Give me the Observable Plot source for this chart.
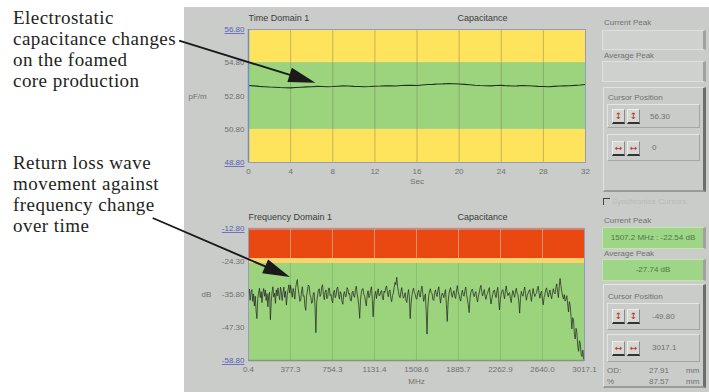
<!DOCTYPE html>
<html><head><meta charset="utf-8">
<script src="https://cdn.jsdelivr.net/npm/d3@7"></script>
<script src="https://cdn.jsdelivr.net/npm/@observablehq/plot@0.6"></script>
<style>
body{margin:0;width:709px;height:392px;position:relative;overflow:hidden;background:#fff;font-family:"Liberation Sans",Arial,sans-serif;}
.note{position:absolute;left:13px;font-family:"Liberation Serif","Times New Roman",serif;font-size:19px;letter-spacing:0.45px;line-height:21px;color:#231f20;white-space:nowrap;}
.note span{display:inline-block;}
#panel{position:absolute;left:184px;top:7px;width:525px;height:385px;background:#c9ccc9;}
.chart{position:absolute;}
.chart svg{overflow:visible;display:block;}
.lbl{position:absolute;font-size:8px;color:#707270;white-space:nowrap;}
.box{position:absolute;box-sizing:border-box;background:#ced1ce;border:1px solid #dfe1df;border-right:3px solid #a0a2a0;}
.gbox{position:absolute;box-sizing:border-box;background:#9ed586;border:1px solid #c2e6b2;border-right:3px solid #a0a2a0;font-size:8px;color:#4d7a48;text-align:center;line-height:20px;}
.group{position:absolute;box-sizing:border-box;border:1px solid #e2e4e2;border-right:3px solid #6c6e6c;border-bottom:2px solid #9a9c9a;}
.inner{position:absolute;box-sizing:border-box;border:1px solid #e4e6e4;border-right:1px solid #a4a6a4;border-bottom:1px solid #a4a6a4;}
.btn{position:absolute;width:13px;height:15px;box-sizing:border-box;background:#d6d8d6;border:1px solid #eeeeee;border-right:1px solid #8a8c8a;border-bottom:2px solid #333;font-family:"DejaVu Sans",sans-serif;font-size:9px;line-height:13px;text-align:center;color:#b5371d;}
.val{position:absolute;font-size:8px;color:#707270;}
#arrows{position:absolute;left:0;top:0;z-index:10;pointer-events:none;}
</style></head>
<body>
<div id="panel"></div>

<div class="note" style="top:7px"><span>Electrostatic</span><br><span id="n1">capacitance changes</span><br><span>on the foamed</span><br><span>core production</span></div>
<div class="note" style="top:152px"><span>Return loss wave</span><br><span>movement against</span><br><span id="n2">frequency change</span><br><span id="n3">over time</span></div>

<div id="top" class="chart" style="left:184px;top:7px"></div>
<div id="bottom" class="chart" style="left:184px;top:200px"></div>

<!-- right-hand control panel (upper) -->
<div class="lbl" style="left:604px;top:18px">Current Peak</div>
<div class="box" style="left:602px;top:30px;width:104px;height:20px"></div>
<div class="lbl" style="left:604px;top:51px">Average Peak</div>
<div class="box" style="left:602px;top:61px;width:104px;height:21px"></div>
<div class="group" style="left:603px;top:87px;width:103px;height:105px"></div>
<div class="lbl" style="left:608px;top:93px">Cursor Position</div>
<div class="inner" style="left:607px;top:104px;width:93px;height:24px"></div>
<div class="btn" style="left:612px;top:109px">↕</div><div class="btn" style="left:627px;top:109px">↕</div>
<div class="val" style="left:650px;top:112px">56.30</div>
<div class="inner" style="left:607px;top:134px;width:93px;height:27px"></div>
<div class="btn" style="left:612px;top:141px">↔</div><div class="btn" style="left:627px;top:141px">↔</div>
<div class="val" style="left:652px;top:143px">0</div>

<!-- right-hand control panel (lower) -->
<div style="position:absolute;left:603px;top:198px;width:6px;height:6px;border-left:1px solid #444;border-top:1px solid #444;"></div>
<div class="lbl" style="left:612px;top:197px;color:#b9bbb9">Synchronize Cursors</div>
<div class="lbl" style="left:604px;top:216px">Current Peak</div>
<div class="gbox" style="left:602px;top:227px;width:104px;height:22px">1507.2 MHz : -22.54 dB</div>
<div class="lbl" style="left:604px;top:249px">Average Peak</div>
<div class="gbox" style="left:602px;top:259px;width:104px;height:22px">-27.74 dB</div>
<div class="group" style="left:603px;top:284px;width:103px;height:104px"></div>
<div class="lbl" style="left:608px;top:292px">Cursor Position</div>
<div class="inner" style="left:607px;top:303px;width:93px;height:27px"></div>
<div class="btn" style="left:612px;top:309px">↕</div><div class="btn" style="left:627px;top:309px">↕</div>
<div class="val" style="left:652px;top:312px">-49.80</div>
<div class="inner" style="left:607px;top:334px;width:93px;height:28px"></div>
<div class="btn" style="left:612px;top:341px">↔</div><div class="btn" style="left:627px;top:341px">↔</div>
<div class="val" style="left:652px;top:343px">3017.1</div>
<div class="val" style="left:607px;top:366px">OD:</div><div class="val" style="left:645px;top:366px;width:24px;text-align:right">27.91</div><div class="val" style="left:686px;top:366px">mm</div>
<div class="val" style="left:607px;top:377px">%</div><div class="val" style="left:645px;top:377px;width:24px;text-align:right">87.57</div><div class="val" style="left:686px;top:377px">mm</div>

<svg id="arrows" width="709" height="392"></svg>

<script>
// ---------- data: time domain (capacitance, pF/m) ----------
const timeSpan = 32; // seconds shown
const capValues = [
  53.43,53.41,53.38,53.36,53.34,53.33,53.31,53.30,53.29,53.31,
  53.33,53.35,53.36,53.38,53.37,53.36,53.37,53.39,53.41,53.40,
  53.38,53.37,53.36,53.37,53.39,53.40,53.42,53.41,53.40,53.43,
  53.45,53.44,53.43,53.46,53.49,53.50,53.52,53.53,53.55,53.54,
  53.52,53.50,53.48,53.45,53.43,53.42,53.41,53.43,53.44,53.42,
  53.40,53.41,53.43,53.42,53.40,53.38,53.37,53.36,53.38,53.40,
  53.41,53.42,53.44,53.46,53.49
];
const secTicks = [0,4,8,12,16,20,24,28,32];
const capTicks = [48.8,50.8,52.8,54.8,56.8];
const capTickLabels = ["48.80","50.80","52.80","54.80","56.80"];
const capWarnBands = [{lo:48.8,hi:50.8},{lo:54.8,hi:56.8}];
const capOkBands = [{lo:50.8,hi:54.8}];

// ---------- data: frequency domain (return loss, dB) ----------
const freqStart = 0.4, freqStop = 3017.1;
const rlValues = [
  -36.2,-33.9,-37.8,-35.0,-34.1,-38.2,-35.6,-39.8,-36.4,-41.5,-44.2,-37.1,-35.3,-33.6,-36.9,-34.8,-38.6,-35.2,-33.7,-36.4,
  -34.2,-37.9,-35.5,-40.1,-36.2,-35.0,-44.6,-38.3,-34.9,-33.1,-36.7,-35.4,-38.9,-34.2,-36.3,-33.5,-35.8,-37.6,-33.2,-34.9,
  -37.9,-35.1,-33.2,-36.8,-34.7,-39.5,-36.1,-34.1,-32.4,-35.3,-32.6,-34.9,-36.8,-33.7,-35.2,-37.4,-33.4,-31.8,-30.6,-33.9,
  -35.9,-38.2,-37.8,-34.6,-33.1,-36.4,-36.2,-39.8,-41.3,-36.2,-34.6,-32.5,-32.9,-35.8,-36.7,-38.9,-38.4,-35.3,-35.1,-40.2,
  -49.1,-38.4,-36.3,-34.2,-33.8,-36.5,-35.7,-33.1,-32.4,-35.8,-37.6,-34.9,-34.2,-37.3,-36.9,-33.8,-33.5,-36.2,-35.8,-37.9,
  -38.7,-35.1,-34.3,-36.9,-36.1,-33.6,-33.2,-35.9,-37.4,-34.8,-35.6,-38.3,-39.2,-35.7,-34.8,-36.6,-36.5,-33.4,-33.9,-35.7,
  -35.4,-37.9,-38.1,-35.2,-34.6,-36.3,-36.8,-34.1,-32.9,-35.6,-37.3,-39.7,-44.1,-37.8,-35.2,-33.9,-33.7,-35.8,-36.4,-38.6,
  -39.8,-35.7,-34.5,-36.9,-36.2,-34.3,-33.1,-37.2,-43.6,-38.4,-35.9,-34.7,-37.2,-35.1,-33.8,-36.2,-36.1,-34.9,-34.4,-36.8,
  -37.7,-34.6,-35.1,-33.4,-32.8,-35.2,-36.6,-34.7,-34.2,-37.1,-38.3,-36.2,-35.4,-33.3,-31.6,-32.4,-29.8,-32.9,-34.7,-36.3,
  -36.9,-34.8,-33.4,-35.9,-37.1,-36.4,-35.2,-37.8,-38.6,-35.9,-34.1,-36.7,-44.2,-39.1,-36.3,-34.5,-33.6,-35.1,-35.8,-37.2,
  -37.4,-35.3,-34.3,-36.2,-36.7,-34.1,-32.9,-35.4,-38.2,-36.8,-35.6,-41.3,-49.6,-40.2,-36.1,-34.6,-33.8,-35.2,-35.4,-37.6,
  -37.9,-35.4,-34.2,-35.8,-36.5,-34.3,-33.1,-36.2,-38.8,-36.6,-35.3,-35.9,-36.9,-35.2,-34.1,-39.3,-45.2,-38.6,-35.7,-34.2,
  -33.4,-35.6,-36.8,-35.3,-34.5,-36.4,-37.2,-34.6,-32.7,-34.8,-35.9,-37.3,-38.1,-35.7,-34.3,-35.9,-36.4,-34.4,-33.2,-35.8,
  -37.6,-39.4,-42.1,-37.2,-35.1,-34.2,-33.9,-35.7,-36.6,-35.3,-34.8,-37.1,-38.4,-36.3,-35.2,-33.6,-32.6,-34.9,-36.3,-35.2,
  -34.1,-36.4,-37.5,-35.8,-35.3,-34.1,-33.4,-36.8,-39.1,-37.2,-35.8,-34.6,-34.2,-35.9,-36.9,-34.6,-33.3,-37.1,-41.2,-37.6,
  -35.7,-34.6,-34.1,-35.8,-37.3,-34.7,-32.8,-34.9,-36.2,-35.4,-35.1,-37.2,-38.6,-35.9,-34.4,-35.7,-36.8,-34.9,-33.6,-35.3,
  -35.9,-38.4,-42.3,-37.1,-34.7,-35.9,-36.4,-34.5,-33.2,-35.6,-37.8,-36.2,-35.3,-34.6,-34.1,-36.4,-38.2,-35.6,-33.7,-35.4,
  -36.5,-35.7,-35.2,-33.8,-32.9,-35.2,-37.1,-35.4,-34.6,-37.3,-39.4,-36.8,-35.8,-34.2,-33.5,-35.4,-36.7,-35.3,-34.2,-36.1,
  -37.3,-35.2,-33.8,-35.1,-35.6,-33.4,-32.1,-34.6,-36.9,-33.1,-30.2,-32.7,-34.8,-36.3,-37.4,-35.8,-38.1,-37.4,-36.2,-39.1,
  -41.9,-38.3,-39.6,-43.5,-47.8,-43.9,-44.6,-49.7,-51.3,-47.6,-49.2,-53.8,-55.6,-51.9,-52.8,-56.7,-57.4,-55.2,-58.3,-58.6
];
const freqTickLabels = ["0.4","377.3","754.3","1131.4","1508.6","1885.7","2262.9","2640.0","3017.1"];
const rlTicks = [-58.8,-47.3,-35.8,-24.3,-12.8];
const rlTickLabels = ["-58.80","-47.30","-35.80","-24.30","-12.80"];
const rlAlarmBand = [{lo:-23.3,hi:-12.8}];
const rlWarnBand = [{lo:-25.0,hi:-23.3}];
const rlOkBand = [{lo:-58.8,hi:-25.0}];

// annotation targets (data coordinates)
const capArrowTarget = {x:6.4, y:53.56};
const rlArrowTarget = {x:377, y:-29.9};

const font = "Liberation Sans, Arial, sans-serif";
const tickGrey = "#6f716f", tickBlue = "#5b5cb8";

// ---------- top chart ----------
const capData = capValues.map((v,i)=>({t:i*timeSpan/(capValues.length-1), v}));
const capFmt = d => capTickLabels[capTicks.indexOf(d)];
const topChart = Plot.plot({
  width:410, height:185, marginLeft:64, marginRight:9, marginTop:22, marginBottom:30,
  x:{domain:[0,timeSpan], label:null}, y:{domain:[capTicks[0],capTicks[capTicks.length-1]], label:null},
  style:{fontFamily:font, fontSize:"8px", background:"transparent", color:tickGrey},
  marks:[
    Plot.rect(capWarnBands,{y1:"lo",y2:"hi",fill:"#fde45c"}),
    Plot.rect(capOkBands,{y1:"lo",y2:"hi",fill:"#9cd47d"}),
    Plot.ruleX(secTicks.slice(1,-1),{stroke:"#7d7a55",strokeOpacity:0.45}),
    Plot.line(capData,{x:"t",y:"v",stroke:"#1e3020",strokeWidth:1.1}),
    Plot.frame({stroke:"#9799c2"}),
    Plot.ruleX([0],{stroke:"#6f8fc8",strokeWidth:1.5}),
    Plot.axisX(secTicks,{tickSize:0,tickPadding:6,fontSize:8,fill:tickGrey,label:null}),
    Plot.axisY(capTicks.slice(1,-1),{tickSize:0,tickPadding:4,fontSize:8,fill:tickGrey,tickFormat:capFmt,label:null}),
    Plot.axisY([capTicks[0],capTicks[capTicks.length-1]],{tickSize:0,tickPadding:4,fontSize:8,fill:tickBlue,tickFormat:capFmt,label:null}),
    Plot.text(["Sec"],{text:d=>d,frameAnchor:"bottom",dy:21,fontSize:8,fill:tickGrey}),
    Plot.text(["pF/m"],{text:d=>d,x:()=>0,y:()=>capTicks[2],dx:-60,textAnchor:"start",fontSize:8,fill:tickGrey}),
    Plot.text(["Time Domain 1"],{text:d=>d,frameAnchor:"top-left",dy:-15,textAnchor:"start",fontSize:9,fill:"#3b3d3b"}),
    Plot.text(["Capacitance"],{text:d=>d,frameAnchor:"top-left",dx:209,dy:-15,textAnchor:"start",fontSize:9,fill:"#3b3d3b"})
  ]
});
document.getElementById("top").append(topChart);

// ---------- bottom chart ----------
const rlData = rlValues.map((v,i)=>({f:freqStart+i*(freqStop-freqStart)/(rlValues.length-1), v}));
const freqTicks = freqTickLabels.map(Number);
const freqFmt = d => freqTickLabels[freqTicks.indexOf(d)];
const rlFmt = d => rlTickLabels[rlTicks.indexOf(d)];
const rlTop = rlTicks[rlTicks.length-1], rlBot = rlTicks[0];
const botChart = Plot.plot({
  width:410, height:192, marginLeft:64, marginRight:10, marginTop:28, marginBottom:32,
  x:{domain:[freqStart,freqStop], label:null}, y:{domain:[rlBot,rlTop], label:null},
  style:{fontFamily:font, fontSize:"8px", background:"transparent", color:tickGrey},
  marks:[
    Plot.rect(rlAlarmBand,{y1:"lo",y2:"hi",fill:"#ea4811"}),
    Plot.rect(rlWarnBand,{y1:"lo",y2:"hi",fill:"#f9d46c"}),
    Plot.rect(rlOkBand,{y1:"lo",y2:"hi",fill:"#9cd47d"}),
    Plot.ruleY([rlTop],{stroke:"#f7a27c",strokeWidth:2}),
    Plot.ruleX(freqTicks.slice(1,-1),{y1:rlAlarmBand[0].lo,y2:rlTop,stroke:"#f6a07a",strokeOpacity:0.8}),
    Plot.ruleX(freqTicks.slice(1,-1),{y1:rlBot,y2:rlWarnBand[0].lo,stroke:"#7fb86a",strokeOpacity:0.7}),
    Plot.line(rlData,{x:"f",y:"v",stroke:"#262826",strokeWidth:0.75}),
    Plot.frame({stroke:"#9799c2"}),
    Plot.ruleY([rlBot],{stroke:"#7c9a74",strokeWidth:1.5}),
    Plot.axisX(freqTicks,{tickSize:0,tickPadding:6,fontSize:8,fill:tickGrey,tickFormat:freqFmt,label:null}),
    Plot.axisY(rlTicks.slice(1,-1),{tickSize:0,tickPadding:4,fontSize:8,fill:tickGrey,tickFormat:rlFmt,label:null}),
    Plot.axisY([rlBot,rlTop],{tickSize:0,tickPadding:4,fontSize:8,fill:tickBlue,tickFormat:rlFmt,label:null}),
    Plot.text(["MHz"],{text:d=>d,frameAnchor:"bottom",dy:23,fontSize:8,fill:tickGrey}),
    Plot.text(["dB"],{text:d=>d,x:()=>freqStart,y:()=>rlTicks[2],dx:-47,textAnchor:"start",fontSize:8,fill:tickGrey}),
    Plot.text(["Frequency Domain 1"],{text:d=>d,frameAnchor:"top-left",dy:-15,textAnchor:"start",fontSize:9,fill:"#3b3d3b"}),
    Plot.text(["Capacitance"],{text:d=>d,frameAnchor:"top-left",dx:209,dy:-15,textAnchor:"start",fontSize:9,fill:"#3b3d3b"})
  ]
});
document.getElementById("bottom").append(botChart);

// underline the blue end labels
const ends = new Set([capTickLabels[0], capTickLabels[capTickLabels.length-1], rlTickLabels[0], rlTickLabels[rlTickLabels.length-1]]);
d3.selectAll(".chart svg text").filter(function(){return ends.has(this.textContent);}).attr("text-decoration","underline");

// ---------- annotation arrows ----------
const svg = d3.select("#arrows");
function arrow(x0,y0,x1,y1){
  const dx=x1-x0, dy=y1-y0, L=Math.hypot(dx,dy), ux=dx/L, uy=dy/L;
  const head=27, half=7.5;
  const bx=x1-ux*head, by=y1-uy*head;
  svg.append("line").attr("x1",x0).attr("y1",y0).attr("x2",bx+ux*2).attr("y2",by+uy*2).attr("stroke","#1a1a1a").attr("stroke-width",1.9);
  svg.append("path").attr("d",`M${x1},${y1}L${bx-uy*half},${by+ux*half}L${bx+uy*half},${by-ux*half}Z`).attr("fill","#1a1a1a");
}
const r1 = document.getElementById("n1").getBoundingClientRect();
arrow(r1.right+3, r1.top+r1.height*0.6,
  184 + topChart.scale("x").apply(capArrowTarget.x), 7 + topChart.scale("y").apply(capArrowTarget.y));
const r2 = document.getElementById("n2").getBoundingClientRect();
const r3 = document.getElementById("n3").getBoundingClientRect();
arrow(r2.right-2, r3.top+3,
  184 + botChart.scale("x").apply(rlArrowTarget.x), 200 + botChart.scale("y").apply(rlArrowTarget.y));
</script>
</body></html>
